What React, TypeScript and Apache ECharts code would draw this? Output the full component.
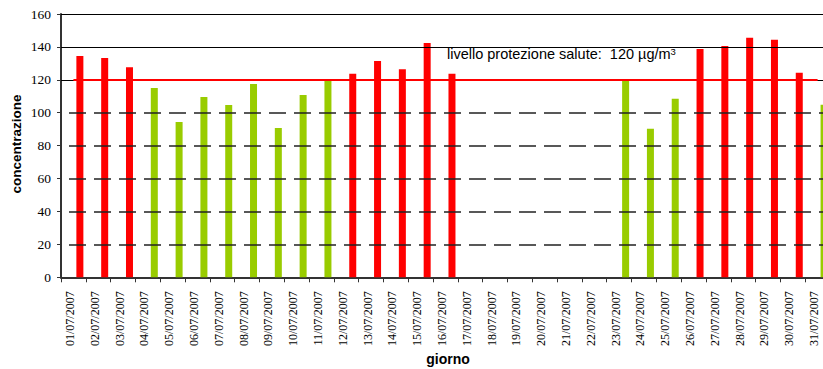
import React, { useEffect, useRef } from "react";
import * as echarts from "echarts";

const days = [
  "01/07/2007", "02/07/2007", "03/07/2007", "04/07/2007", "05/07/2007", "06/07/2007",
  "07/07/2007", "08/07/2007", "09/07/2007", "10/07/2007", "11/07/2007", "12/07/2007",
  "13/07/2007", "14/07/2007", "15/07/2007", "16/07/2007", "17/07/2007", "18/07/2007",
  "19/07/2007", "20/07/2007", "21/07/2007", "22/07/2007", "23/07/2007", "24/07/2007",
  "25/07/2007", "26/07/2007", "27/07/2007", "28/07/2007", "29/07/2007", "30/07/2007",
  "31/07/2007",
];

// values above the health protection level (red)
const aboveLimit = [
  134.5, 133.3, 127.7, null, null, null, null, null, null, null, null, 123.7,
  131.4, 126.5, 142.4, 123.7, null, null, null, null, null, null, null, null,
  null, 138.7, 140.5, 145.5, 144.3, 124.3, null,
];

// values at or below the health protection level (green)
const belowLimit = [
  null, null, null, 115.0, 94.4, 109.6, 104.7, 117.5, 90.7, 110.8, 119.5, null,
  null, null, null, null, null, null, null, null, null, null, 119.8, 90.3,
  108.5, null, null, null, null, null, 104.9,
];

const limitValue = 120;
const dashedLevels = [20, 40, 60, 80, 100];
const solidLevels = [120, 140, 160];

const SERIF = "'Liberation Serif', 'Times New Roman', serif";
const SANS = "'Liberation Sans', Arial, sans-serif";

export default function App() {
  const ref = useRef<HTMLDivElement>(null);

  useEffect(() => {
    const chart = echarts.init(ref.current!, null, { renderer: "svg" });
    const option: any = {
      animation: false,
      backgroundColor: "#ffffff",
      grid: { left: 61, top: 14, bottom: 91.7, right: 2, containLabel: false },
      xAxis: {
        type: "category",
        data: days,
        boundaryGap: true,
        axisLine: { show: true, lineStyle: { color: "#333", width: 2 } },
        axisTick: { show: true, length: 5, lineStyle: { color: "#333", width: 1 } },
        axisLabel: {
          interval: 0,
          rotate: 90,
          margin: 14,
          fontFamily: SERIF,
          fontSize: 12,
          color: "#000",
          verticalAlign: "bottom",
          lineHeight: 7,
        },
        splitLine: { show: false },
      },
      yAxis: {
        type: "value",
        min: 0,
        max: 160,
        interval: 20,
        axisLine: { show: true, lineStyle: { color: "#333", width: 2 } },
        axisTick: { show: true, length: 4, lineStyle: { color: "#333", width: 1 } },
        axisLabel: {
          margin: 10,
          fontFamily: SERIF,
          fontSize: 13.5,
          color: "#000",
          padding: [8, 0, 0, 0],
        },
        splitLine: { show: false },
      },
      series: [
        {
          name: "slot",
          type: "bar",
          data: [],
          barWidth: 7,
          barGap: "85%",
          z: 1,
          markLine: {
            silent: true,
            symbol: ["none", "none"],
            label: { show: false },
            emphasis: { disabled: true },
            data: [
              ...dashedLevels.map((v) => ({
                yAxis: v,
                lineStyle: { type: [17, 8], dashOffset: 17, color: "#222", width: 1.5 },
              })),
              ...solidLevels.map((v) => ({
                yAxis: v,
                lineStyle: { type: "solid", color: "#000", width: 1 },
              })),
            ],
          },
        },
        {
          name: "superamento",
          type: "bar",
          stack: "v",
          data: aboveLimit,
          barWidth: 7,
          barGap: "85%",
          itemStyle: { color: "#ff0000" },
          z: 2,
        },
        {
          name: "entro limite",
          type: "bar",
          stack: "v",
          data: belowLimit,
          barWidth: 7,
          barGap: "85%",
          itemStyle: { color: "#99cc00" },
          z: 2,
        },
        {
          name: "limite",
          type: "line",
          data: [],
          z: 5,
          markLine: {
            silent: true,
            symbol: ["none", "none"],
            label: { show: false },
            emphasis: { disabled: true },
            lineStyle: { type: "solid", color: "#ff0000", width: 2 },
            data: [[{ coord: [days[0], limitValue] }, { coord: [days[30], limitValue] }]],
          },
        },
      ],
      graphic: [
        {
          type: "text",
          x: 447,
          y: 54,
          style: {
            text: "{a|livello protezione salute:  120 µg/m}{s|3}",
            verticalAlign: "middle",
            align: "left",
            rich: {
              a: { fontFamily: SANS, fontSize: 14.5, fill: "#000", color: "#000" },
              s: {
                fontFamily: SANS,
                fontSize: 9.5,
                fill: "#000",
                color: "#000",
                verticalAlign: "top",
              },
            },
          },
        },
        {
          type: "text",
          x: 16,
          y: 144,
          rotation: Math.PI / 2,
          style: {
            text: "concentrazione",
            fontFamily: SANS,
            fontWeight: "bold",
            fontSize: 13.5,
            fill: "#000",
            align: "center",
            verticalAlign: "middle",
          },
        },
        {
          type: "text",
          x: 448,
          y: 359,
          style: {
            text: "giorno",
            fontFamily: SANS,
            fontWeight: "bold",
            fontSize: 14,
            fill: "#000",
            align: "center",
            verticalAlign: "middle",
          },
        },
      ],
    };
    chart.setOption(option);
    return () => chart.dispose();
  }, []);

  return (
    <div
      style={{
        position: "fixed",
        left: 0,
        top: 0,
        width: 823,
        height: 369,
        overflow: "hidden",
        background: "#fff",
      }}
    >
      <div ref={ref} style={{ width: 832, height: 369 }} />
    </div>
  );
}
